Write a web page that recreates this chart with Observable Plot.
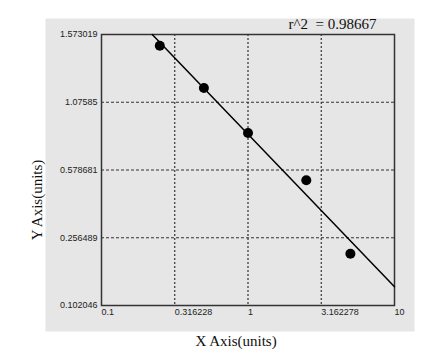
<!DOCTYPE html>
<html><head><meta charset="utf-8">
<script src="https://cdn.jsdelivr.net/npm/d3@7"></script>
<script src="https://cdn.jsdelivr.net/npm/@observablehq/plot@0.6"></script>
<style>body{margin:0;background:#fff}#chart svg{display:block}</style>
</head><body><div id="chart"></div>
<script>
const xTicks = [0.1, 0.316228, 1, 3.162278, 10];
const xTickLabels = ["0.1", "0.316228", "1", "3.162278", "10"];
const yTicks = [0.102046, 0.256489, 0.578681, 1.07585, 1.573019];
const yTickLabels = ["0.102046", "0.256489", "0.578681", "1.07585", "1.573019"];
const pointX = [0.25, 0.5, 1, 2.5, 5];
const pointY = [1.49, 1.18, 0.85, 0.53, 0.22];
const fitX = [0.222, 10];
const fitY = [1.573019, 0.145];
const rSquaredText = "r^2  = 0.98667";
const xTitle = "X Axis(units)";
const yTitle = "Y Axis(units)";

const W = 424, H = 357, mL = 101, mT = 34, mR = 30, mB = 52;
const yRange = yTicks.map((_, i) => (H - mB) - i * ((H - mB - mT) / (yTicks.length - 1)));
const serif = "'Liberation Serif', 'DejaVu Serif', serif";
const sans = "'Liberation Sans', Arial, sans-serif";

const chart = Plot.plot({
  width: W, height: H,
  marginLeft: mL, marginTop: mT, marginRight: mR, marginBottom: mB,
  style: {background: "transparent", fontFamily: sans},
  x: {type: "log", domain: [0.1, 10], axis: null},
  y: {type: "linear", domain: yTicks, range: yRange, axis: null},
  marks: [
    Plot.frame({fill: "#e6e6e6", stroke: null, insetLeft: -56, insetTop: -16, insetRight: -20, insetBottom: -26}),
    Plot.ruleX(xTicks.slice(1, -1), {stroke: "#333", strokeWidth: 1.2, strokeDasharray: "2,2"}),
    Plot.ruleY(yTicks.slice(1, -1), {stroke: "#333", strokeWidth: 1.2, strokeDasharray: "3,2"}),
    Plot.frame({stroke: "#333", strokeWidth: 1.5}),
    Plot.line(fitX, {x: fitX, y: fitY, stroke: "#000", strokeWidth: 1.5}),
    Plot.dot(pointX, {x: pointX, y: pointY, r: 5, fill: "#000", stroke: null}),
    Plot.text(xTicks, {x: xTicks, text: xTickLabels, frameAnchor: "bottom", textAnchor: "start", lineAnchor: "middle", dy: 7, fontSize: 9, fill: "#222"}),
    Plot.text(yTicks, {y: yTicks, text: yTickLabels, frameAnchor: "left", textAnchor: "end", lineAnchor: "middle", dx: -4, fontSize: 9, fill: "#222"}),
    Plot.text([rSquaredText], {frameAnchor: "top-right", textAnchor: "end", lineAnchor: "middle", dx: -18, dy: -10, fontSize: 15, fontFamily: serif, fill: "#111"}),
    Plot.text([xTitle], {frameAnchor: "bottom", textAnchor: "middle", lineAnchor: "middle", dx: -12, dy: 36, fontSize: 15, fontFamily: serif, fill: "#111"}),
    Plot.text([yTitle], {frameAnchor: "left", textAnchor: "middle", lineAnchor: "middle", rotate: -90, dx: -64, dy: 30, fontSize: 15, fontFamily: serif, fill: "#111"})
  ]
});
document.getElementById("chart").appendChild(chart);
</script>
</body></html>
